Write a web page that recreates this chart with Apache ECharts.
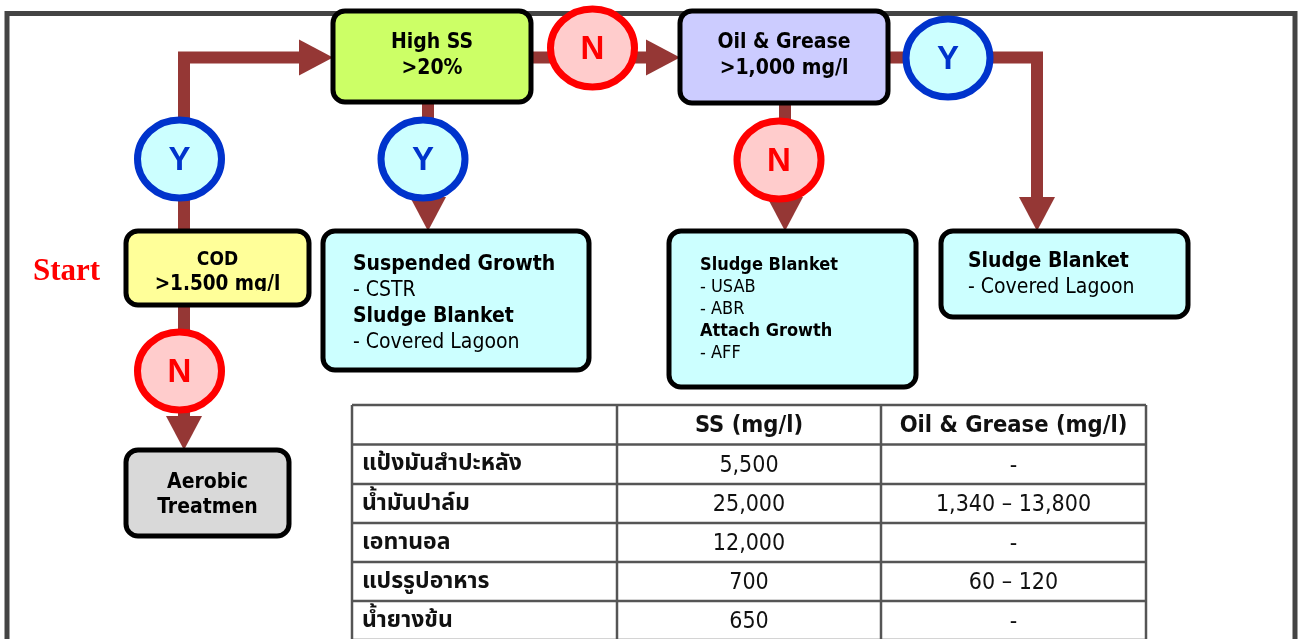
<!DOCTYPE html>
<html><head><meta charset="utf-8">
<script src="https://cdn.jsdelivr.net/npm/echarts@6/dist/echarts.min.js"></script>
<style>html,body{margin:0;padding:0;background:#fff}#c{width:1298px;height:639px}</style>
</head><body><div id="c"></div>
<script>
// ---------- content (text) ----------
const boxLines = [
  ['High SS', '>20%'],
  ['Oil & Grease', '>1,000 mg/l'],
  ['COD', '>1.500 mg/l'],
  ['Suspended Growth', '- CSTR', 'Sludge Blanket', '- Covered Lagoon'],
  ['Sludge Blanket', '- USAB', '- ABR', 'Attach Growth', '- AFF'],
  ['Sludge Blanket', '- Covered Lagoon'],
  ['Aerobic', 'Treatmen']
];
const badgeLabels = ['Y', 'Y', 'N', 'Y', 'N', 'N'];
const startLabel = 'Start';
const tableHeader = ['', 'SS (mg/l)', 'Oil & Grease (mg/l)'];
const industries = ['แป้งมันสำปะหลัง', 'น้ำมันปาล์ม', 'เอทานอล', 'แปรรูปอาหาร', 'น้ำยางข้น'];
const ssValues = ['5,500', '25,000', '12,000', '700', '650'];
const oilGreaseValues = ['-', '1,340 – 13,800', '-', '60 – 120', '-'];

// ---------- diagram layout (diagram coordinates) ----------
const boxRects = [[333,11,531,102],[680,11,888,103],[126,231,309,305],[323,231,589,370],[669,231,916,387],[941,231,1188,317],[126,450,289,536]];
const connectorPaths = [
  [[184,231],[184,57.5],[333,57.5]],
  [[428,102],[428,231]],
  [[531,57.5],[680,57.5]],
  [[888,57.5],[1037,57.5],[1037,231]],
  [[785,103],[785,231]],
  [[184,305],[184,450]]
];
const badgeCenters = [[179.5,159],[423,159],[592.5,48],[948,58],[779,160],[179.5,371]];
const framePath = [[7,645],[7,13.5],[1295,13.5],[1295,645]];
const startPos = [33, 272];
const colEdges = [352, 617, 881, 1146];
const rowEdges = [405, 444.5, 484, 523, 562, 601, 640];

// ---------- styles ----------
const boxFills = ['#ccff66','#ccccff','#ffff99','#ccffff','#ccffff','#ccffff','#d9d9d9'];
const boldFlags = [[1,1],[1,1],[1,1],[1,0,1,0],[1,0,0,1,0],[1,0],[1,1]];
const textLayout = [
  {align:'center', y0:43, dy:26, size:21},
  {align:'center', y0:43, dy:26, size:21},
  {align:'center', y0:260, dy:24.5, sizes:[19, 20.5], clip:291},
  {align:'left', x:353, y0:265, dy:25.7, size:21},
  {align:'left', x:700, y0:265, dy:22.2, size:18},
  {align:'left', x:968, y0:262, dy:26, size:21},
  {align:'center', y0:483, dy:25, size:21}
];
const FONT = '"DejaVu Sans Condensed", "DejaVu Sans", sans-serif';
const THAI = '"Noto Sans Thai", "Tahoma", "DejaVu Sans", sans-serif';
const arrowColor = '#953735';

const chart = echarts.init(document.getElementById('c'), null, {renderer: 'canvas'});

function frameItem(params, api) {
  const pts = framePath.map(p => api.coord(p));
  return {type: 'polyline', shape: {points: pts}, style: {stroke: '#444', lineWidth: 5, fill: null}};
}

function connectorItem(params, api) {
  const i = api.value(2);
  const pts = connectorPaths[i].map(p => api.coord(p));
  const tip = pts[pts.length - 1], prev = pts[pts.length - 2];
  const dx = tip[0] - prev[0], dy = tip[1] - prev[1];
  const len = Math.hypot(dx, dy), ux = dx / len, uy = dy / len;
  const hl = 34, hw = 18;
  const base = [tip[0] - ux * hl, tip[1] - uy * hl];
  const linePts = pts.slice(0, -1).concat([[base[0] + ux * 2, base[1] + uy * 2]]);
  return {type: 'group', children: [
    {type: 'polyline', shape: {points: linePts}, style: {stroke: arrowColor, lineWidth: 12, lineJoin: 'miter', fill: null}},
    {type: 'polygon', shape: {points: [tip, [base[0] - uy * hw, base[1] + ux * hw], [base[0] + uy * hw, base[1] - ux * hw]]}, style: {fill: arrowColor}}
  ]};
}

function boxItem(params, api) {
  const i = api.value(2);
  const r = boxRects[i];
  const p0 = api.coord([r[0], r[1]]), p1 = api.coord([r[2], r[3]]);
  const L = textLayout[i];
  const children = [{type: 'rect', shape: {x: p0[0], y: p0[1], width: p1[0] - p0[0], height: p1[1] - p0[1], r: 12},
    style: {fill: boxFills[i], stroke: '#000', lineWidth: 5}}];
  const cx = (p0[0] + p1[0]) / 2;
  const texts = boxLines[i].map((t, k) => {
    const y = api.coord([0, L.y0 + k * L.dy])[1];
    const x = L.align === 'center' ? cx : api.coord([L.x, 0])[0];
    const size = L.sizes ? L.sizes[k] : L.size;
    return {type: 'text', x: x, y: y, style: {text: t, font: (boldFlags[i][k] ? 'bold ' : '') + size + 'px ' + FONT,
      fill: '#000', align: L.align, verticalAlign: 'middle'}};
  });
  if (L.clip) {
    const cy = api.coord([0, L.clip])[1];
    children.push({type: 'group', children: texts, clipPath: {type: 'rect', shape: {x: p0[0], y: p0[1], width: p1[0] - p0[0], height: cy - p0[1]}}});
  } else {
    children.push(...texts);
  }
  return {type: 'group', children: children};
}

function badgeItem(params, api) {
  const i = api.value(2);
  const c = api.coord(badgeCenters[i]);
  const yes = badgeLabels[i] === 'Y';
  return {type: 'group', children: [
    {type: 'ellipse', shape: {cx: c[0], cy: c[1], rx: 42, ry: 39},
      style: {fill: yes ? '#ccffff' : '#ffcccc', stroke: yes ? '#0033cc' : '#ff0000', lineWidth: 7}},
    {type: 'text', x: c[0], y: c[1] + 2, style: {text: badgeLabels[i], font: 'bold 33px "Liberation Sans", Arial, sans-serif',
      fill: yes ? '#0033cc' : '#ff0000', align: 'center', verticalAlign: 'middle'}}
  ]};
}

function tableItem(params, api) {
  const children = [];
  const tl = api.coord([colEdges[0], rowEdges[0]]);
  const br = api.coord([colEdges[colEdges.length - 1], rowEdges[rowEdges.length - 1]]);
  rowEdges.forEach(y => {
    const yy = api.coord([0, y])[1];
    children.push({type: 'line', shape: {x1: tl[0], y1: yy, x2: br[0], y2: yy}, style: {stroke: '#555', lineWidth: 2.5}});
  });
  colEdges.forEach(x => {
    const xx = api.coord([x, 0])[0];
    children.push({type: 'line', shape: {x1: xx, y1: tl[1], x2: xx, y2: br[1]}, style: {stroke: '#555', lineWidth: 2.5}});
  });
  const cellText = (col, row, text, bold, thai) => {
    const yMid = api.coord([0, (rowEdges[row] + rowEdges[row + 1]) / 2 + 1.5])[1];
    const left = col === 0;
    const x = left ? api.coord([colEdges[0] + 10, 0])[0] : api.coord([(colEdges[col] + colEdges[col + 1]) / 2, 0])[0];
    const font = thai ? 'bold 23px ' + THAI : (bold ? 'bold 23.5px ' : '23px ') + FONT;
    children.push({type: 'text', x: x, y: yMid, style: {text: text, font: font,
      fill: '#111', align: left ? 'left' : 'center', verticalAlign: 'middle'}});
  };
  tableHeader.forEach((h, c) => { if (h) cellText(c, 0, h, true, false); });
  industries.forEach((name, r) => {
    cellText(0, r + 1, name, true, true);
    cellText(1, r + 1, ssValues[r], false, false);
    cellText(2, r + 1, oilGreaseValues[r], false, false);
  });
  return {type: 'group', children: children};
}

function startItem(params, api) {
  const p = api.coord(startPos);
  return {type: 'text', x: p[0], y: p[1], style: {text: startLabel, font: 'bold 31px "Liberation Serif", "Times New Roman", serif',
    fill: '#ff0000', align: 'left', verticalAlign: 'middle'}};
}

const common = {type: 'custom', coordinateSystem: 'cartesian2d', silent: true, animation: false, clip: false};

chart.setOption({
  backgroundColor: '#fff',
  animation: false,
  grid: {left: 0, right: 0, top: 0, bottom: 0},
  xAxis: {type: 'value', min: 0, max: 1298, show: false},
  yAxis: {type: 'value', min: 0, max: 639, inverse: true, show: false},
  series: [
    Object.assign({}, common, {z: 1, renderItem: frameItem, data: [[framePath[1][0], framePath[1][1], 0]]}),
    Object.assign({}, common, {z: 2, renderItem: connectorItem, data: connectorPaths.map((p, i) => [p[0][0], p[0][1], i])}),
    Object.assign({}, common, {z: 3, renderItem: boxItem, data: boxRects.map((r, i) => [r[0], r[1], i])}),
    Object.assign({}, common, {z: 4, renderItem: badgeItem, data: badgeCenters.map((c, i) => [c[0], c[1], i])}),
    Object.assign({}, common, {z: 3, renderItem: tableItem, data: [[colEdges[0], rowEdges[0], 0]]}),
    Object.assign({}, common, {z: 3, renderItem: startItem, data: [[startPos[0], startPos[1], 0]]})
  ]
});
</script></body></html>
